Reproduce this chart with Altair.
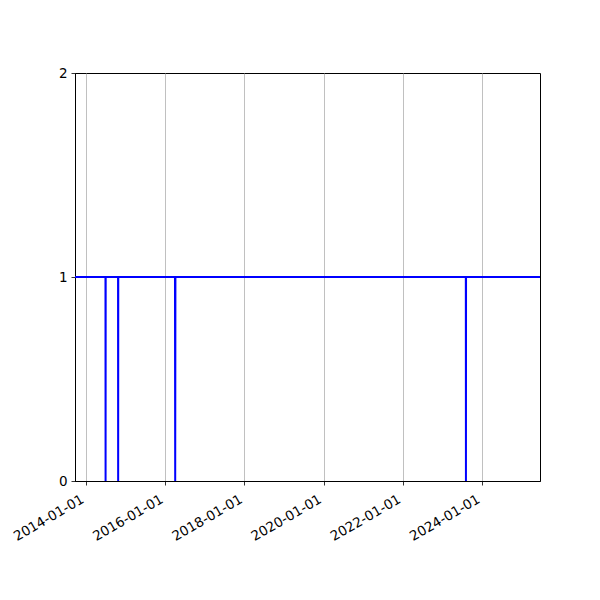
import altair as alt
import pandas as pd

dates = [
    "2013-09-22",
    "2014-06-30", "2014-07-01", "2014-07-02",
    "2014-10-24", "2014-10-25", "2014-10-26",
    "2016-04-01", "2016-04-03", "2016-04-05",
    "2023-08-05", "2023-08-06", "2023-08-07",
    "2025-06-19",
]
values = [1, 1, 0, 1, 1, 0, 1, 1, 0, 1, 1, 0, 1, 1]

df = pd.DataFrame({"date": pd.to_datetime(dates), "value": values})

tick_dates = ["2014-01-01", "2016-01-01", "2018-01-01", "2020-01-01", "2022-01-01", "2024-01-01"]
tick_ms = [int(pd.Timestamp(d).timestamp() * 1000) for d in tick_dates]

chart = alt.Chart(df).mark_line(color="#0000ff", strokeWidth=2, clip=True).encode(
    x=alt.X("date:T",
            scale=alt.Scale(domain=["2013-09-22", "2025-06-19"]),
            axis=alt.Axis(values=tick_ms, tickCount=20, format="%Y-%m-%d", labelAngle=-30,
                          labelAlign="right", labelBaseline="top", title=None,
                          grid=True, gridColor="#b0b0b0", gridWidth=0.8,
                          labelPadding=7, labelOffset=-7, labelOverlap=False)),
    y=alt.Y("value:Q",
            scale=alt.Scale(domain=[0, 2], nice=False),
            axis=alt.Axis(tickMinStep=1, tickCount=2, format="d", title=None, grid=False,
                          labelPadding=4, labelOverlap=False)),
).properties(
    width=465, height=408,
    padding={"left": 3, "top": 58, "right": 10, "bottom": 10},
).configure_view(stroke="black", strokeWidth=1).configure_axis(
    domainWidth=1, domainColor="black", tickColor="black", tickWidth=0.8,
    labelColor="black", labelFont="DejaVu Sans", labelFontSize=13.5, tickSize=4,
)

chart.save("out.html", embed_options={"renderer": "svg", "actions": False})
